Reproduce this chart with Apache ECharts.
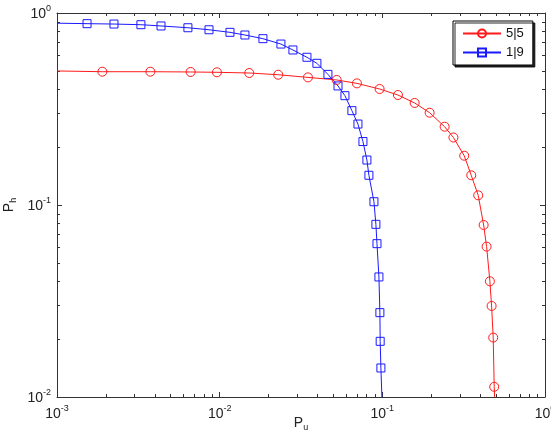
<!DOCTYPE html>
<html>
<head>
<meta charset="utf-8">
<script src="https://cdn.jsdelivr.net/npm/echarts@6/dist/echarts.min.js"></script>
<style>
html,body{margin:0;padding:0;background:#fff;}
#chart{width:551px;height:435px;}
</style>
</head>
<body>
<div id="chart"></div>
<script>
// tick values
const xMajor = [0.001, 0.01, 0.1, 1];
const yMajor = [0.01, 0.1, 1];
const xMinor = [0.002, 0.003, 0.004, 0.005, 0.006, 0.007, 0.008, 0.009,
	0.02, 0.03, 0.04, 0.05, 0.06, 0.07, 0.08, 0.09,
	0.2, 0.3, 0.4, 0.5, 0.6, 0.7, 0.8, 0.9];
const yMinor = [0.02, 0.03, 0.04, 0.05, 0.06, 0.07, 0.08, 0.09,
	0.2, 0.3, 0.4, 0.5, 0.6, 0.7, 0.8, 0.9];

// series 5|5 (first and last point are line ends, no marker)
const redX = [0.001, 0.0019, 0.00375, 0.00663, 0.00962, 0.0152, 0.0229, 0.0349, 0.0524, 0.0698,
	0.0962, 0.1247, 0.158, 0.1953, 0.2415, 0.2735, 0.3187, 0.352, 0.3885, 0.4195,
	0.4375, 0.4584, 0.4696, 0.4804, 0.4873, 0.49];
const redY = [0.499, 0.4946, 0.4946, 0.493, 0.491, 0.487, 0.477, 0.462, 0.448, 0.430,
	0.402, 0.374, 0.340, 0.3025, 0.2557, 0.2247, 0.1806, 0.1428, 0.1123, 0.0787,
	0.0607, 0.04005, 0.0298, 0.0204, 0.0113, 0.01];

// series 1|9
const blueX = [0.001, 0.00153, 0.00224, 0.00328, 0.00436, 0.00638, 0.0086, 0.01157, 0.0143, 0.01845,
	0.0238, 0.0282, 0.0344, 0.0396, 0.0463, 0.0534, 0.0589, 0.0650, 0.0708, 0.0760,
	0.0804, 0.0827, 0.0888, 0.0913, 0.0927, 0.0953, 0.0966, 0.0970, 0.0980, 0.0994];
const blueY = [0.885, 0.88, 0.876, 0.869, 0.856, 0.838, 0.818, 0.793, 0.768, 0.735,
	0.689, 0.642, 0.588, 0.547, 0.479, 0.417, 0.371, 0.310, 0.264, 0.214,
	0.1715, 0.1428, 0.104, 0.0793, 0.0629, 0.0422, 0.0275, 0.0195, 0.01416, 0.01];

const names = ["5|5", "1|9"];
const colors = ["#ff1a1a", "#1a1aff"];

const font = "'Liberation Sans', Arial, Helvetica, sans-serif";
const axisColor = "#333";

function toData(xs, ys) {
	return xs.map(function(x, i) {
		const item = { value: [x, ys[i]] };
		if (i === 0 || i === xs.length - 1) item.symbol = "none";
		return item;
	});
}

function powLabel(v) {
	return "{b|10}{s|" + Math.round(Math.log10(v)) + "}";
}
const powRich = {
	b: { fontSize: 14, lineHeight: 16, color: "#222", fontFamily: font, verticalAlign: "bottom" },
	s: { fontSize: 9, lineHeight: 9, color: "#222", fontFamily: font, padding: [0, 0, 8, 0], verticalAlign: "bottom" },
};

function logAxis(dim, pos, ticks, len, extra) {
	const ax = {
		type: "log",
		logBase: 10,
		position: pos,
		min: dim === "x" ? 0.001 : 0.01,
		max: 1,
		axisLine: { show: true, lineStyle: { color: axisColor, width: 1 } },
		axisTick: { show: true, inside: true, length: len, customValues: ticks, lineStyle: { color: axisColor } },
		axisLabel: { show: false },
		splitLine: { show: false },
		minorTick: { show: false },
	};
	return Object.assign(ax, extra || {});
}

const chart = echarts.init(document.getElementById("chart"));
const option = {
	animation: false,
	backgroundColor: "#fff",
	grid: {
		left: 57,
		right: 6,
		top: 13,
		bottom: 38,
		containLabel: false,
		outerBoundsMode: "none",
	},
	legend: {
		left: 453,
		top: 21,
		orient: "vertical",
		padding: [6, 9, 6, 9],
		itemGap: 6,
		itemWidth: 38,
		itemHeight: 10,
		backgroundColor: "#fff",
		borderColor: "#000",
		borderWidth: 1,
		borderRadius: 0,
		shadowColor: "rgba(0,0,0,0.85)",
		shadowOffsetX: 2,
		shadowOffsetY: 2,
		shadowBlur: 0,
		textStyle: { fontSize: 13, color: "#111", fontFamily: font },
		data: names,
	},
	xAxis: [
		logAxis("x", "bottom", xMajor, 5, {
			axisLabel: {
				show: true,
				customValues: xMajor,
				formatter: powLabel,
				rich: powRich,
				margin: 8,
			},
			name: "{p|P}{u|u}",
			nameLocation: "middle",
			nameGap: 18,
			nameMoveOverlap: false,
			nameTextStyle: {
				rich: {
					p: { fontSize: 14, color: "#222", fontFamily: font },
					u: { fontSize: 9, color: "#222", fontFamily: font, padding: [8, 0, 0, 0] },
				},
			},
		}),
		logAxis("x", "bottom", xMinor, 3, { axisLine: { show: false } }),
		logAxis("x", "top", xMajor, 5),
		logAxis("x", "top", xMinor, 3, { axisLine: { show: false } }),
	],
	yAxis: [
		logAxis("y", "left", yMajor, 5, {
			axisLabel: {
				show: true,
				customValues: yMajor,
				formatter: powLabel,
				rich: powRich,
				margin: 6,
			},
			name: "{p|P}{h|h}",
			nameLocation: "middle",
			nameGap: 39,
			nameMoveOverlap: false,
			nameTextStyle: {
				rich: {
					p: { fontSize: 14, color: "#222", fontFamily: font },
					h: { fontSize: 9, color: "#222", fontFamily: font, padding: [8, 0, 0, 0] },
				},
			},
		}),
		logAxis("y", "left", yMinor, 3, { axisLine: { show: false } }),
		logAxis("y", "right", yMajor, 5),
		logAxis("y", "right", yMinor, 3, { axisLine: { show: false } }),
	],
	series: [
		{
			name: names[0],
			type: "line",
			xAxisIndex: 0,
			yAxisIndex: 0,
			symbol: "circle",
			symbolSize: 9,
			lineStyle: { color: colors[0], width: 1 },
			itemStyle: { color: "transparent", borderColor: colors[0], borderWidth: 1 },
			data: toData(redX, redY),
		},
		{
			name: names[1],
			type: "line",
			xAxisIndex: 0,
			yAxisIndex: 0,
			symbol: "rect",
			symbolSize: 8,
			lineStyle: { color: colors[1], width: 1 },
			itemStyle: { color: "transparent", borderColor: colors[1], borderWidth: 1 },
			data: toData(blueX, blueY),
		},
	],
};
chart.setOption(option);
</script>
</body>
</html>
